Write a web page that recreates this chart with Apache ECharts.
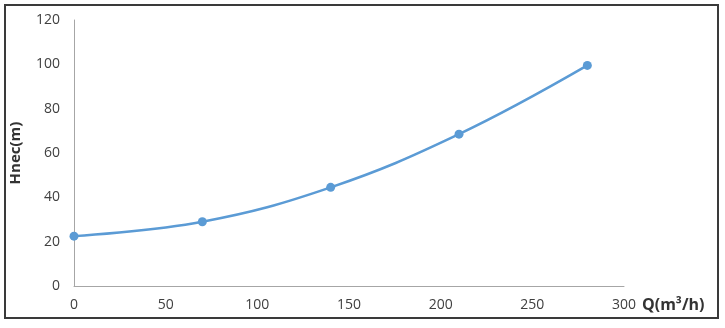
<!DOCTYPE html>
<html><head><meta charset="utf-8">
<script src="https://cdn.jsdelivr.net/npm/echarts@6/dist/echarts.min.js"></script>
<style>html,body{margin:0;padding:0;background:#fff}#c{width:725px;height:328px}</style>
</head><body><div id="c"></div>
<script>
const qValues = [0, 70, 140, 210, 280];
const hValues = [22.5, 29, 44.5, 68.5, 99.5];
const xAxisTitle = 'Q(m³/h)';
const yAxisTitle = 'Hnec(m)';

const chart = echarts.init(document.getElementById('c'), null, {renderer: 'canvas'});
const font = '"Open Sans", "Liberation Sans", sans-serif';
chart.setOption({
  animation: false,
  backgroundColor: '#fff',
  grid: {left: 73, right: 101, top: 20, bottom: 42, containLabel: false},
  graphic: [{
    type: 'rect', shape: {x: 5, y: 5, width: 713, height: 313},
    style: {fill: 'none', stroke: '#3a3a3a', lineWidth: 2}, silent: true
  }],
  xAxis: {
    type: 'value', min: 0, max: 300, interval: 50,
    name: xAxisTitle, nameLocation: 'end', nameGap: 18,
    nameTextStyle: {fontFamily: font, fontWeight: 'bold', fontSize: 16, color: '#333', verticalAlign: 'top', padding: [11, 0, 0, 0]},
    axisLine: {show: true, lineStyle: {color: '#a6a6a6', width: 1}},
    axisTick: {show: false},
    splitLine: {show: false},
    axisLabel: {fontFamily: font, fontSize: 14, color: '#404040', margin: 12}
  },
  yAxis: {
    type: 'value', min: 0, max: 120, interval: 20,
    name: yAxisTitle, nameLocation: 'middle', nameGap: 51,
    nameTextStyle: {fontFamily: font, fontWeight: 'bold', fontSize: 15, color: '#333'},
    axisLine: {show: true, lineStyle: {color: '#a6a6a6', width: 1}},
    axisTick: {show: false},
    splitLine: {show: false},
    axisLabel: {fontFamily: font, fontSize: 14, color: '#404040', margin: 14}
  },
  series: [{
    type: 'line',
    data: qValues.map((q, i) => [q, hValues[i]]),
    smooth: 0.4,
    symbol: 'circle', symbolSize: 9,
    lineStyle: {color: '#5b9bd5', width: 2.5},
    itemStyle: {color: '#5b9bd5'}
  }]
});
</script></body></html>
